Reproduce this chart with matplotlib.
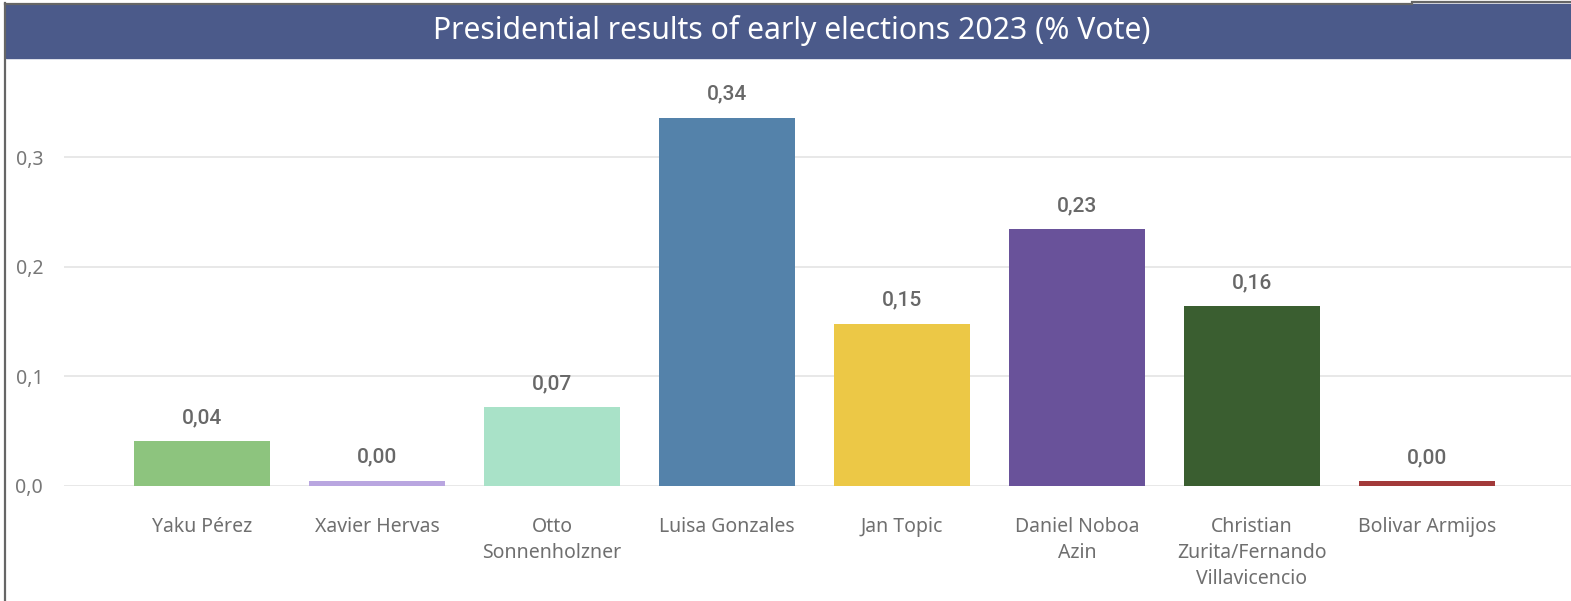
import numpy as np
import matplotlib.pyplot as plt
from matplotlib.patches import Rectangle
from matplotlib.lines import Line2D

candidates = ["Yaku Pérez", "Xavier Hervas", "Otto\nSonnenholzner", "Luisa Gonzales",
              "Jan Topic", "Daniel Noboa\nAzin", "Christian\nZurita/Fernando\nVillavicencio",
              "Bolivar Armijos"]
votes = [0.041, 0.0049, 0.072, 0.336, 0.148, 0.234, 0.164, 0.0045]
colors = ["#8dc47e", "#b9a6e0", "#a9e2c8", "#5482aa", "#ecc846", "#69529a", "#3a5e30", "#a23a3a"]
yticks = [0.0, 0.1, 0.2, 0.3]

W, H = 1571, 601
fig = plt.figure(figsize=(W / 100, H / 100), dpi=100)

def fx(px):
    return px / W

def fy(py):
    return 1 - py / H

# title banner and frame
fig.patches.append(Rectangle((fx(6), fy(58)), 1 - fx(6), fy(4) - fy(58),
                             transform=fig.transFigure, color="#4b5a8a", zorder=0))
fig.lines.append(Line2D([fx(5), fx(5)], [0, fy(3)], transform=fig.transFigure,
                        color="#666666", lw=1.6))
fig.lines.append(Line2D([fx(5), fx(1412)], [fy(3.5), fy(3.5)], transform=fig.transFigure,
                        color="#666666", lw=1.6))
fig.lines.append(Line2D([fx(1412), 1], [fy(1.5), fy(1.5)], transform=fig.transFigure,
                        color="#666666", lw=1.6))
fig.text(0.5 * (fx(6) + 1) + 0.002, fy(31), "Presidential results of early elections 2023 (% Vote)",
         color="white", fontsize=21.7, family="Noto Sans", ha="center", va="center")

# plot area
ax = fig.add_axes([fx(64), fy(486), 1 - fx(64), fy(91) - fy(486)])
x = np.arange(len(candidates))
ax.bar(x, votes, width=0.777, color=colors, zorder=3)
ax.set_xlim(-0.789, 7.823)
ax.set_ylim(0, 0.3 * 395 / 329)

for xi, v in zip(x, votes):
    ax.annotate(f"{v:.2f}".replace(".", ","), (xi, v), xytext=(0, 10), textcoords="offset points",
                ha="center", va="bottom", fontsize=15, color="#686868",
                family="Roboto", fontweight="medium")

ax.set_yticks(yticks)
ax.set_yticklabels([f"{t:.1f}".replace(".", ",") for t in yticks],
                   fontsize=14, color="#777777", family="Noto Sans")
ax.set_xticks(x)
ax.set_xticklabels(candidates, fontsize=14, color="#6f6f6f", family="Noto Sans",
                   linespacing=1.42)
ax.tick_params(axis="y", length=0, pad=15)
ax.tick_params(axis="x", length=0, pad=22)
ax.grid(axis="y", color="#e8e8e8", lw=1.4, zorder=0)
for s in ax.spines.values():
    s.set_visible(False)

fig.savefig("out.png", dpi=100)
